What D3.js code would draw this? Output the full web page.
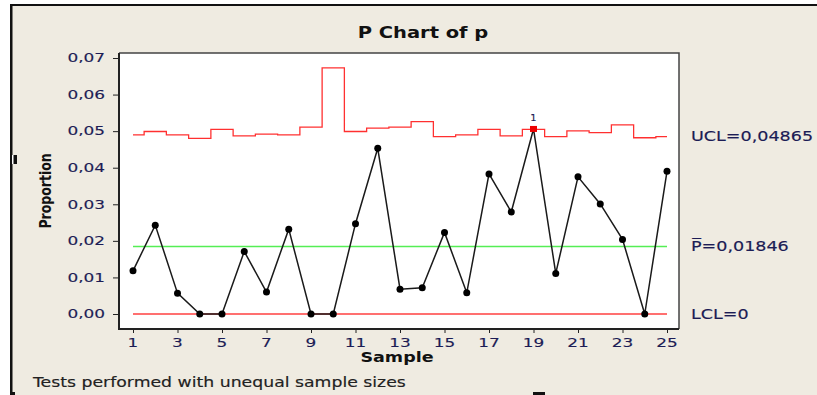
<!DOCTYPE html>
<html>
<head>
<meta charset="utf-8">
<script src="https://cdn.jsdelivr.net/npm/d3@7"></script>
<style>
  body { margin: 0; background: #fff; }
  text { font-family: "DejaVu Sans", Verdana, sans-serif; }
</style>
</head>
<body>
<svg id="chart"></svg>
<script>
const samples = d3.range(1, 26);
const pValues = [0.0118, 0.0243, 0.0057, 0, 0, 0.0171, 0.0060, 0.0232, 0, 0,
  0.0247, 0.0453, 0.0068, 0.0072, 0.0223, 0.0058, 0.0383, 0.0279, 0.0506, 0.0111,
  0.0375, 0.0301, 0.0204, 0, 0.0390];
const uclValues = [0.0490, 0.0499, 0.0490, 0.0480, 0.0505, 0.0487, 0.0492, 0.0490, 0.0511, 0.0673,
  0.0499, 0.0508, 0.0511, 0.0526, 0.0485, 0.0490, 0.0505, 0.0487, 0.0505, 0.0485,
  0.0501, 0.0496, 0.0517, 0.0482, 0.0485];
const pBar = 0.01846;
const lcl = 0;
const uclLabel = 0.04865;
const yTicks = [0, 0.01, 0.02, 0.03, 0.04, 0.05, 0.06, 0.07];
const xTicks = d3.range(1, 26, 2);
const outOfControl = [19];

const W = 817, H = 395;
const plot = { left: 119, right: 679, top: 53, bottom: 329 };
const sx = 1.3; // the reference text is stretched horizontally

const loc = d3.formatLocale({ decimal: ",", thousands: ".", grouping: [3], currency: ["", ""] });
const f2 = loc.format(".2f");
const f5 = loc.format(".5f");

const svg = d3.select("#chart").attr("width", W).attr("height", H);

// window background + frame
svg.append("rect").attr("x", 10).attr("y", 4).attr("width", W - 10).attr("height", H - 4).attr("fill", "#efebe1");
svg.append("rect").attr("x", 10).attr("y", 4).attr("width", W - 10).attr("height", 2).attr("fill", "#111");
svg.append("rect").attr("x", 10).attr("y", 4).attr("width", 2.5).attr("height", H - 4).attr("fill", "#111");
// selection handles
svg.append("rect").attr("x", 12).attr("y", 155).attr("width", 5).attr("height", 9).attr("fill", "#111");
svg.append("rect").attr("x", 12).attr("y", 155).attr("width", 1.5).attr("height", 9).attr("fill", "#fff");
svg.append("rect").attr("x", 533).attr("y", 392).attr("width", 12).attr("height", 3).attr("fill", "#111");
svg.append("rect").attr("x", 12).attr("y", 392).attr("width", 3).attr("height", 3).attr("fill", "#111");

const x = d3.scaleLinear()
  .domain([1 - 14 / 22.25, 25 + 12 / 22.25])
  .range([plot.left, plot.right]);
const y = d3.scaleLinear()
  .domain([0, 0.07])
  .range([314, 58]);

svg.append("rect")
  .attr("x", plot.left).attr("y", plot.top)
  .attr("width", plot.right - plot.left).attr("height", plot.bottom - plot.top)
  .attr("fill", "#fff");

function label(txt, px, py, opts = {}) {
  const color = opts.color || "#1c1c55";
  const g = svg.append("g").attr("transform", `translate(${px},${py}) scale(${opts.scale || sx},1)`);
  return g.append("text")
    .attr("text-anchor", opts.anchor || "start")
    .attr("dominant-baseline", opts.baseline || "auto")
    .attr("font-size", opts.size || 13)
    .attr("font-weight", opts.bold ? "bold" : "normal")
    .attr("fill", color)
    .attr("stroke", opts.bold ? "none" : color)
    .attr("stroke-width", 0.15)
    .text(txt);
}

// axes
const yAxis = d3.axisLeft(y).tickValues(yTicks).tickSize(6).tickFormat(f2);
const gy = svg.append("g").attr("transform", `translate(${plot.left},0)`).call(yAxis);
gy.select(".domain").remove();
gy.selectAll(".tick line").attr("stroke", "#222");
gy.selectAll(".tick text").remove();
yTicks.forEach((t) => label(f2(t), 105, y(t), { anchor: "end", baseline: "central" }));

const xAxis = d3.axisBottom(x).tickValues(xTicks).tickSize(4).tickFormat(d3.format("d"));
const gx = svg.append("g").attr("transform", `translate(0,${plot.bottom})`).call(xAxis);
gx.select(".domain").remove();
gx.selectAll(".tick line").attr("stroke", "#222");
gx.selectAll(".tick text").remove();
xTicks.forEach((t) => label(String(t), x(t), 347, { anchor: "middle" }));

// plot frame
svg.append("path")
  .attr("d", `M${plot.left},${plot.top}H${plot.right}V${plot.bottom}`)
  .attr("fill", "none").attr("stroke", "#444").attr("stroke-width", 1.5);
svg.append("path")
  .attr("d", `M${plot.left},${plot.top}V${plot.bottom}H${plot.right}`)
  .attr("fill", "none").attr("stroke", "#222").attr("stroke-width", 2);

// UCL step line
const uclPts = [];
samples.forEach((s, i) => {
  uclPts.push([i === 0 ? s : s - 0.5, uclValues[i]]);
  uclPts.push([i === samples.length - 1 ? s : s + 0.5, uclValues[i]]);
});
svg.append("path")
  .datum(uclPts)
  .attr("fill", "none").attr("stroke", "#ff3030").attr("stroke-width", 1.3)
  .attr("d", d3.line().x((d) => x(d[0])).y((d) => y(d[1])));

// centre line and LCL
svg.append("line")
  .attr("x1", x(1)).attr("x2", x(25)).attr("y1", y(pBar)).attr("y2", y(pBar))
  .attr("stroke", "#55ee55").attr("stroke-width", 1.3);
svg.append("line")
  .attr("x1", x(1)).attr("x2", x(25)).attr("y1", y(lcl)).attr("y2", y(lcl))
  .attr("stroke", "#ff4040").attr("stroke-width", 1.3);

// data
const pts = samples.map((s, i) => ({ s, p: pValues[i] }));
svg.append("path")
  .datum(pts)
  .attr("fill", "none").attr("stroke", "#1a1a1a").attr("stroke-width", 1.5)
  .attr("d", d3.line().x((d) => x(d.s)).y((d) => y(d.p)));

svg.selectAll(".pt")
  .data(pts.filter((d) => !outOfControl.includes(d.s)))
  .enter().append("circle")
  .attr("class", "pt")
  .attr("cx", (d) => x(d.s)).attr("cy", (d) => y(d.p)).attr("r", 3.5)
  .attr("fill", "#000");

const bad = pts.filter((d) => outOfControl.includes(d.s));
svg.selectAll(".bad")
  .data(bad)
  .enter().append("rect")
  .attr("class", "bad")
  .attr("x", (d) => x(d.s) - 3.5).attr("y", (d) => y(d.p) - 3)
  .attr("width", 7).attr("height", 6)
  .attr("fill", "#ee0000");
bad.forEach((d) => label("1", x(d.s), y(d.p) - 8, { anchor: "middle", size: 9, scale: 1.1 }));

// right labels
label("UCL=" + f5(uclLabel), 691, y(uclLabel), { baseline: "central", size: 13.5 });
label("P\u0305=" + f5(pBar), 691, y(pBar), { baseline: "central", size: 13.5 });
label("LCL=" + lcl, 691, y(lcl), { baseline: "central", size: 13.5 });

// titles
label("P Chart of p", 423, 38, { anchor: "middle", size: 15, bold: true, color: "#111" });
label("Sample", 397, 362, { anchor: "middle", size: 13.5, bold: true, color: "#111" });
svg.append("text")
  .attr("transform", `translate(51,191) rotate(-90) scale(1,1.25)`)
  .attr("text-anchor", "middle")
  .attr("font-size", 12.5).attr("font-weight", "bold").attr("fill", "#111")
  .text("Proportion");
label("Tests performed with unequal sample sizes", 33, 387, { size: 13.5, scale: 1.28, color: "#222" });
</script>
</body>
</html>
